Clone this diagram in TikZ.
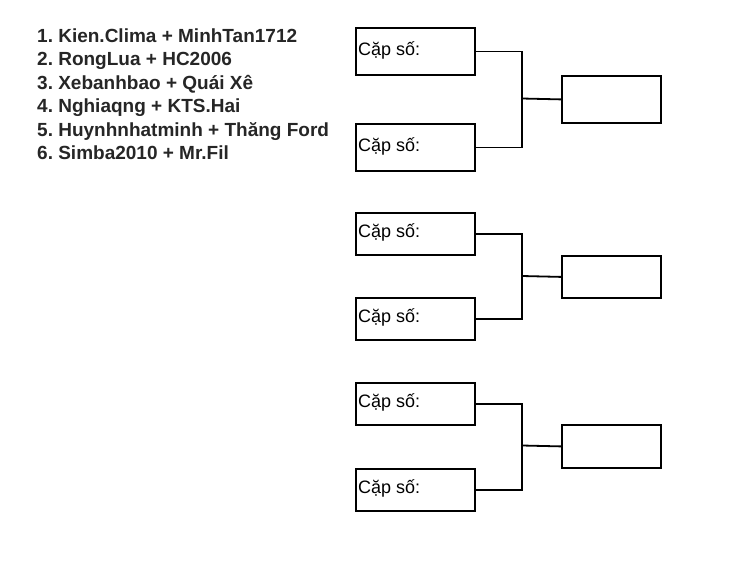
\documentclass[tikz,border=0pt]{standalone}
\usepackage{fontspec}
\setmainfont{Liberation Sans}
\frenchspacing
\begin{document}
\begin{tikzpicture}[x=1pt,y=-1pt,
  pairbox/.style={draw=black,line width=1.8pt,anchor=north west,inner sep=0pt,minimum width=119pt},
  winbox/.style={draw=black,line width=1.8pt,anchor=north west,inner sep=0pt,minimum width=99pt},
  lbl/.style={anchor=base west,inner sep=0pt,font=\fontsize{18}{20}\selectfont},
  listline/.style={anchor=base west,inner sep=0pt,text=black!85,font=\bfseries\fontsize{19}{22}\selectfont},
  link/.style={draw=black,line width=1.8pt}]
\fill[white] (0,0) rectangle (750,573);
\useasboundingbox (0,0) rectangle (750,573);
% list
\node[listline] (l1) at (37,42) {1. Kien.Clima + MinhTan1712};
\node[listline] (l2) at (37,65.5) {2. RongLua + HC2006};
\node[listline] (l3) at (37,89) {3. Xebanhbao + Quái Xê};
\node[listline] (l4) at (37,112.5) {4. Nghiaqng + KTS.Hai};
\node[listline] (l5) at (37,136) {5. Huynhnhatminh + Thăng Ford};
\node[listline] (l6) at (37,159.5) {6. Simba2010 + Mr.Fil};
% group 1
\node[pairbox,minimum height=47pt] (a1) at (355,27) {};
\node[pairbox,minimum height=47pt] (a2) at (355,123) {};
\node[winbox,minimum height=47pt] (w1) at (561,75) {};
\node[lbl] (t1) at (358,55) {Cặp số:};
\node[lbl] (t2) at (358,151) {Cặp số:};
\coordinate (j1) at (522,98.5);
\draw[link] (a1.east) -| (j1) |- (a2.east);
\draw[link] (j1) -- (w1.west);
% group 2
\node[pairbox,minimum height=42pt] (a3) at (355,212) {};
\node[pairbox,minimum height=42pt] (a4) at (355,297) {};
\node[winbox,minimum height=42pt] (w2) at (561,255) {};
\node[lbl] (t3) at (358,237.5) {Cặp số:};
\node[lbl] (t4) at (358,322.5) {Cặp số:};
\coordinate (j2) at (522,276);
\draw[link] (a3.east) -| (j2) |- (a4.east);
\draw[link] (j2) -- (w2.west);
% group 3
\node[pairbox,minimum height=42pt] (a5) at (355,382) {};
\node[pairbox,minimum height=42pt] (a6) at (355,468) {};
\node[winbox,minimum height=43pt] (w3) at (561,424) {};
\node[lbl] (t5) at (358,407.5) {Cặp số:};
\node[lbl] (t6) at (358,493.5) {Cặp số:};
\coordinate (j3) at (522,445.5);
\draw[link] (a5.east) -| (j3) |- (a6.east);
\draw[link] (j3) -- (w3.west);
\end{tikzpicture}
\end{document}
